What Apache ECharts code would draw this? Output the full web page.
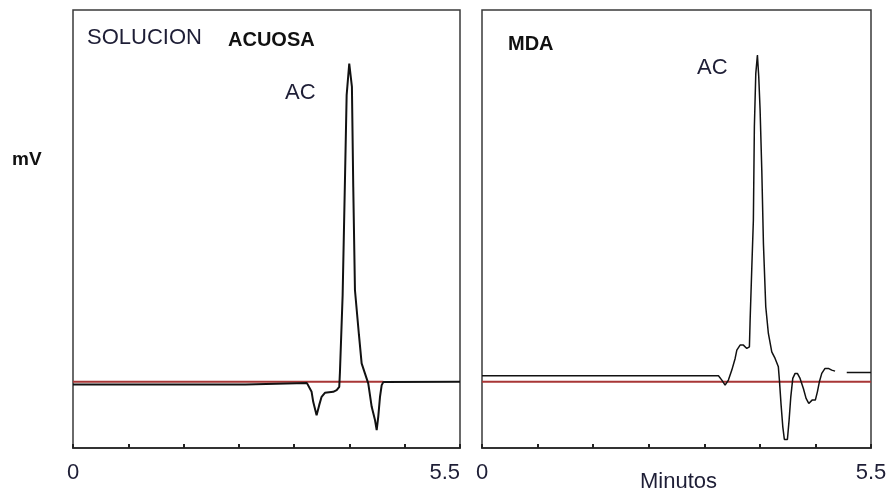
<!DOCTYPE html>
<html>
<head>
<meta charset="utf-8">
<script src="https://cdn.jsdelivr.net/npm/echarts@6/dist/echarts.min.js"></script>
<style>
html,body{margin:0;padding:0;background:#fff;}
#c{width:890px;height:496px;}
</style>
</head>
<body>
<div id="c"></div>
<script>
// ---- data (time in minutes, signal in arbitrary mV units; baseline = 0) ----
const xMin = 0, xMax = 5.5;
const xTickLabels = ['0', '5.5'];
const xTickCount = 7;

const leftTime   = [0, 2.452, 2.457, 3.325, 3.391, 3.414, 3.462, 3.499, 3.533, 3.580, 3.698, 3.747, 3.784, 3.794, 3.832, 3.865, 3.889, 3.926, 3.964, 3.983, 4.007, 4.064, 4.102, 4.149, 4.196, 4.245, 4.292, 4.316, 4.338, 4.363, 4.387, 4.410, 5.5];
const leftSignal = [-0.7, -0.7, -0.35, -0.35, -2.69, -5.38, -8.96, -6.27, -4.03, -2.96, -2.69, -2.23, -1.34, 2.69, 23.3, 54.2, 77.1, 85.6, 79.3, 52.4, 24.7, 12.6, 4.95, 2.26, -0.43, -6.72, -10.3, -13.0, -9.41, -4.03, -0.89, -0.08, 0];
const leftRefTime   = [0, 4.41];
const leftRefSignal = [0, 0];

const rightTime   = [0, 3.343, 3.391, 3.437, 3.484, 3.532, 3.579, 3.603, 3.649, 3.696, 3.744, 3.781, 3.791, 3.815, 3.837, 3.851, 3.871, 3.894, 3.913, 3.932, 3.956, 3.979, 4.012, 4.049, 4.097, 4.144, 4.190, 4.205, 4.229, 4.253, 4.275, 4.318, 4.342, 4.366, 4.394, 4.427, 4.459, 4.497, 4.544, 4.582, 4.620, 4.667, 4.713, 4.742, 4.770, 4.804, 4.850, 4.897, 4.945, 4.992, 5.07, 5.157, 5.5];
const rightSignal = [1.61, 1.61, 0.46, -0.89, 0.46, 3.15, 6.29, 8.53, 9.87, 9.87, 8.98, 9.41, 16.6, 30.9, 43.5, 68.6, 82.9, 87.9, 82.0, 73.1, 56.9, 37.2, 20.2, 13.0, 8.07, 6.29, 4.03, 0.46, -6.27, -12.1, -15.5, -15.5, -10.3, -4.03, 0.91, 2.26, 2.26, 0.91, -1.78, -4.46, -5.81, -4.92, -4.92, -2.69, 0, 2.26, 3.60, 3.60, 3.15, 2.88, null, 2.53, 2.53];
const rightRefTime   = [0, 5.5];
const rightRefSignal = [0, 0];

const zip = (t, s) => t.map((v, i) => [v, s[i]]);

const chart = echarts.init(document.getElementById('c'), null, {renderer: 'canvas'});

const txt = '#1e1e36';
function xAxisCfg(idx, alignMax) {
  return {
    type: 'value', gridIndex: idx, min: xMin, max: xMax,
    interval: (xMax - xMin) / xTickCount,
    axisLine: {show: true, onZero: false, lineStyle: {color: '#333', width: 2}},
    axisTick: {show: true, inside: true, length: 4, lineStyle: {color: '#222', width: 2}},
    splitLine: {show: false},
    axisLabel: {
      show: true, margin: 14, fontSize: 22, color: txt, fontFamily: 'Liberation Sans, Arial, sans-serif',
      alignMaxLabel: alignMax ? 'right' : 'center',
      formatter: v => {
        if (Math.abs(v - xMin) < 1e-6) return xTickLabels[0];
        if (Math.abs(v - xMax) < 1e-6) return xTickLabels[1];
        return '';
      }
    }
  };
}
function yAxisCfg(idx) {
  return {
    type: 'value', gridIndex: idx, min: -17.8, max: 100,
    axisLine: {show: false}, axisTick: {show: false}, axisLabel: {show: false}, splitLine: {show: false}
  };
}

chart.setOption({
  animation: false,
  backgroundColor: '#fff',
  grid: [
    {left: 73, top: 10, width: 387, height: 438, show: true, borderColor: '#3a3a3a', borderWidth: 1.5, backgroundColor: 'transparent'},
    {left: 482, top: 10, width: 389, height: 438, show: true, borderColor: '#3a3a3a', borderWidth: 1.5, backgroundColor: 'transparent'}
  ],
  xAxis: [xAxisCfg(0, true), xAxisCfg(1, false)],
  yAxis: [yAxisCfg(0), yAxisCfg(1)],
  series: [
    {type: 'line', xAxisIndex: 0, yAxisIndex: 0, data: zip(leftRefTime, leftRefSignal), symbol: 'none',
     lineStyle: {color: '#a83636', width: 2}, z: 2},
    {type: 'line', xAxisIndex: 0, yAxisIndex: 0, data: zip(leftTime, leftSignal), symbol: 'none',
     lineStyle: {color: '#111', width: 2}, z: 3},
    {type: 'line', xAxisIndex: 1, yAxisIndex: 1, data: zip(rightRefTime, rightRefSignal), symbol: 'none',
     lineStyle: {color: '#a83636', width: 2}, z: 2},
    {type: 'line', xAxisIndex: 1, yAxisIndex: 1, data: zip(rightTime, rightSignal), symbol: 'none', connectNulls: false,
     lineStyle: {color: '#111', width: 1.5}, z: 3}
  ],
  graphic: [
    {type: 'text', left: 87, top: 27, style: {text: 'SOLUCION', font: '22px "Liberation Sans", Arial, sans-serif', fill: txt}},
    {type: 'text', left: 228, top: 30, style: {text: 'ACUOSA', font: 'bold 20px "Liberation Sans", Arial, sans-serif', fill: '#111'}},
    {type: 'text', left: 285, top: 82, style: {text: 'AC', font: '22px "Liberation Sans", Arial, sans-serif', fill: txt}},
    {type: 'text', left: 508, top: 34, style: {text: 'MDA', font: 'bold 20px "Liberation Sans", Arial, sans-serif', fill: '#111'}},
    {type: 'text', left: 697, top: 57, style: {text: 'AC', font: '22px "Liberation Sans", Arial, sans-serif', fill: txt}},
    {type: 'text', left: 12, top: 150, style: {text: 'mV', font: 'bold 19px "Liberation Sans", Arial, sans-serif', fill: '#111'}},
    {type: 'text', left: 640, top: 471, style: {text: 'Minutos', font: '22px "Liberation Sans", Arial, sans-serif', fill: txt}}
  ]
});
</script>
</body>
</html>
